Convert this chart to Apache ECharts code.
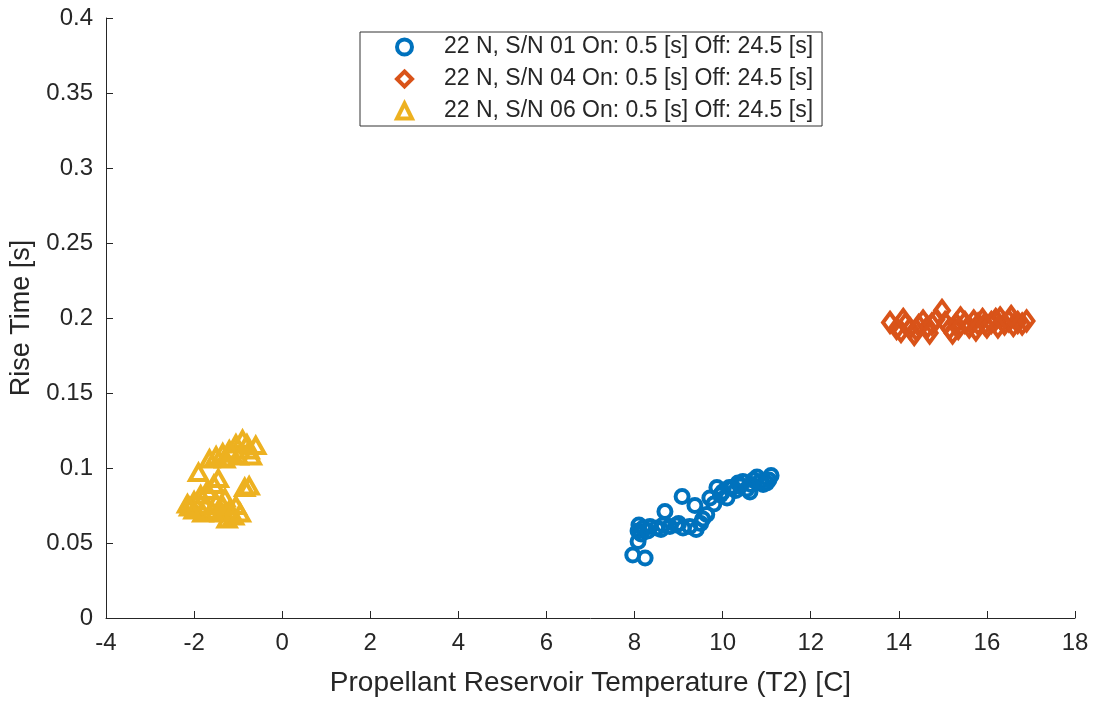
<!DOCTYPE html>
<html><head><meta charset="utf-8">
<script src="https://cdn.jsdelivr.net/npm/echarts@6/dist/echarts.min.js"></script>
<style>html,body{margin:0;padding:0;background:#fff}#c{width:1093px;height:702px}</style>
</head><body><div id="c"></div>
<script>
const seriesNames = [
  '22 N, S/N 01 On: 0.5 [s] Off: 24.5 [s]',
  '22 N, S/N 04 On: 0.5 [s] Off: 24.5 [s]',
  '22 N, S/N 06 On: 0.5 [s] Off: 24.5 [s]'
];
const sn01 = [
  [7.96,0.042],[8.24,0.040],[8.08,0.051],[8.08,0.058],[8.10,0.062],[8.20,0.060],[8.35,0.061],
  [8.50,0.060],[8.65,0.062],[8.80,0.061],[8.95,0.062],[9.10,0.060],[9.25,0.061],[9.40,0.059],
  [8.69,0.071],[9.08,0.081],[9.37,0.075],[9.55,0.066],[9.64,0.069],[9.71,0.080],[9.80,0.076],
  [9.87,0.087],[9.95,0.082],[10.10,0.080],[10.23,0.087],[10.35,0.090],[10.46,0.091],
  [10.55,0.086],[10.62,0.084],[10.70,0.092],[10.78,0.094],[10.92,0.089],[11.00,0.090],
  [11.10,0.095],[10.85,0.091],[10.40,0.088],[8.15,0.056],[8.30,0.058],[8.60,0.059],
  [9.00,0.063],[9.50,0.063],[10.00,0.084],[10.30,0.085],[10.65,0.089],[11.05,0.092],[10.15,0.087]
];
const sn04 = [
  [13.80,0.197],[13.95,0.193],[14.05,0.191],[14.15,0.196],[14.25,0.193],[14.35,0.189],
  [14.45,0.195],[14.55,0.198],[14.65,0.194],[14.75,0.196],[14.85,0.199],[14.98,0.205],
  [15.05,0.197],[15.15,0.193],[15.22,0.190],[15.30,0.196],[15.40,0.200],[15.50,0.197],
  [15.60,0.194],[15.70,0.198],[15.80,0.196],[15.90,0.199],[16.00,0.194],[16.10,0.197],
  [16.20,0.199],[16.30,0.200],[16.40,0.196],[16.50,0.198],[16.60,0.195],[16.70,0.197],
  [16.80,0.196],[16.90,0.198],[14.10,0.199],[14.40,0.192],[14.70,0.190],[15.35,0.193],
  [15.75,0.192],[16.25,0.194],[16.55,0.201],[15.95,0.196]
];
const sn06 = [
  [-1.65,0.106],[-1.50,0.108],[-1.35,0.110],[-1.20,0.112],[-1.05,0.116],[-0.90,0.119],
  [-0.75,0.112],[-0.60,0.115],[-0.70,0.108],[-1.00,0.108],[-1.30,0.106],
  [-2.15,0.076],[-2.00,0.078],[-1.85,0.082],[-1.70,0.085],[-1.55,0.089],[-1.45,0.093],
  [-1.30,0.080],[-1.20,0.072],[-1.10,0.068],[-1.25,0.066],[-1.40,0.070],[-1.60,0.072],
  [-1.80,0.070],[-2.00,0.072],[-0.95,0.070],[-0.85,0.087],[-0.75,0.088],[-1.90,0.097],
  [-1.50,0.077],[-1.15,0.110],[-0.80,0.116],[-1.75,0.075],[-1.35,0.075],[-1.05,0.075],[-2.10,0.074]
];
const xTicks = {min:-4, max:18, interval:2};
const yTicks = {min:0, max:0.4, interval:0.05};

const txt = '#262626';
const font = 'Liberation Sans, Arial, Helvetica, sans-serif';
function mk(name, data, symbol, color, size){
  return {
    name, type:'scatter', data, symbol, symbolSize:size,
    itemStyle:{color:'rgba(255,255,255,0)', borderColor:color, borderWidth:4, opacity:1},
    emphasis:{disabled:true}
  };
}
const chart = echarts.init(document.getElementById('c'));
chart.setOption({
  backgroundColor:'#fff',
  animation:false,
  textStyle:{fontFamily:font},
  grid:{left:106, right:18, top:18, bottom:82},
  legend:{
    orient:'vertical', left:360, top:32,
    backgroundColor:'#fff', borderColor:'#333', borderWidth:1,
    padding:[2,9,2,35], itemGap:6, itemWidth:15, itemHeight:15,
    itemStyle:{borderWidth:4},
    textStyle:{fontSize:23, lineHeight:26, color:txt, fontFamily:font, padding:[0,0,0,27]},
    data:seriesNames.map(function(n){return {name:n};})
  },
  xAxis:{
    type:'value', min:xTicks.min, max:xTicks.max, interval:xTicks.interval,
    name:'Propellant Reservoir Temperature (T2) [C]', nameLocation:'middle', nameGap:51,
    nameTextStyle:{fontSize:28, color:txt},
    axisLine:{onZero:false, lineStyle:{color:txt, width:1}},
    axisTick:{inside:true, length:7, lineStyle:{color:txt}},
    axisLabel:{fontSize:24, color:txt, margin:13},
    splitLine:{show:false}
  },
  yAxis:{
    type:'value', min:yTicks.min, max:yTicks.max, interval:yTicks.interval,
    name:'Rise Time [s]', nameLocation:'middle', nameGap:67,
    nameTextStyle:{fontSize:27, color:txt},
    axisLine:{show:true, onZero:false, lineStyle:{color:txt, width:1}},
    axisTick:{show:true, inside:true, length:7, lineStyle:{color:txt}},
    axisLabel:{fontSize:24, color:txt, margin:13, formatter:function(v){return String(+v.toFixed(2));}},
    splitLine:{show:false}
  },
  series:[
    mk(seriesNames[0], sn01, 'circle', '#0072BD', 13),
    mk(seriesNames[1], sn04, 'diamond', '#D95319', [14,19]),
    mk(seriesNames[2], sn06, 'triangle', '#EDB120', [17,15])
  ]
});
</script></body></html>
